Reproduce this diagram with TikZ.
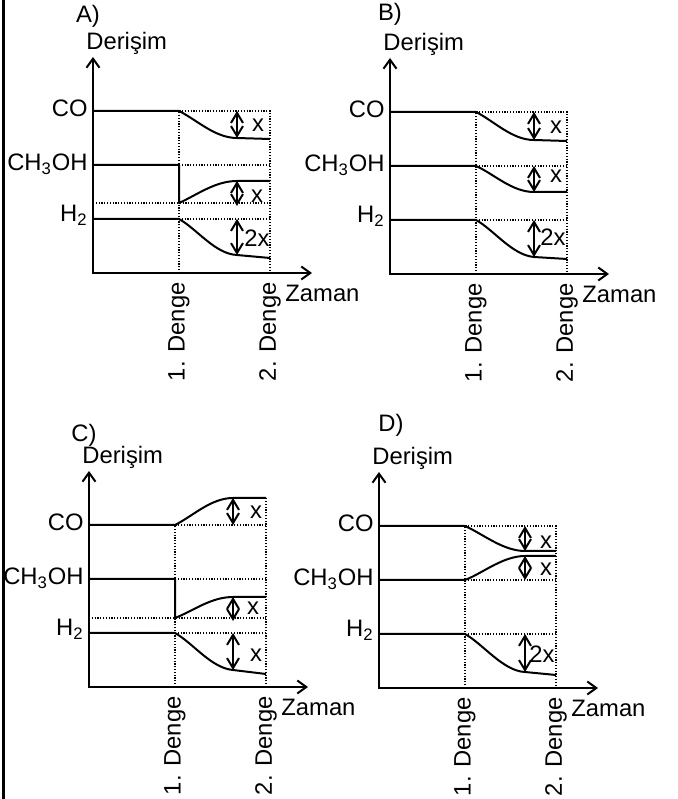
\documentclass[tikz,border=0pt]{standalone}
\usepackage{fontspec}
\setmainfont{Liberation Sans}
\usetikzlibrary{arrows.meta}

\tikzset{
  every node/.style={font=\fontsize{11.9}{13}\selectfont, inner sep=0pt},
  axes/.style={line width=1pt, {Straight Barb[length=4.5pt,width=6.5pt]}-{Straight Barb[length=4.5pt,width=6.5pt]}},
  level/.style={line width=1pt, line join=round},
  guide/.style={line width=0.6pt, dash pattern=on 0.6pt off 0.8pt},
  gap/.style={line width=1pt, {Straight Barb[length=5pt,width=6pt]}-{Straight Barb[length=5pt,width=6pt]}},
  tag/.style={anchor=base east},
  denge/.style={rotate=90, anchor=east},
}

% axes, labels and species names of one chart
\newcommand{\chartframe}[3]{%
  \coordinate (#1-o) at (0,0);
  \coordinate (#1-y) at (0,216);
  \coordinate (#1-x) at (219,0);
  \draw[axes] (#1-y) -- (#1-o) -- (#1-x);
  \node (#1-lt) at #3 {#2)};
  \node[anchor=west] (#1-yl) at (-7,230) {Derişim};
  \node[anchor=west] (#1-xl) at (192,-20) {Zaman};
  \node[denge] (#1-d1) at (86,-9) {1. Denge};
  \node[denge] (#1-d2) at (177,-9) {2. Denge};
  \node[tag] (#1-co) at (-5,156) {CO};
  \node[tag] (#1-me) at (-5,102) {CH\textsubscript{3}OH};
  \node[tag] (#1-h) at (-5,51) {H\textsubscript{2}};
}

\begin{document}
\begin{tikzpicture}[x=0.5pt,y=0.5pt]
  \useasboundingbox (0,0) rectangle (678,799);
  \draw[line width=1.5pt] (3,0) -- (3,799);

  % A)
  \begin{scope}[shift={(93,526)}]
    \draw[guide] (86,0) -- (86,162) -- (177,162) -- (177,0);
    \draw[guide] (86,108) -- (177,108);
    \draw[guide] (0,70) -- (177,70);
    \draw[guide] (86,54) -- (177,54);
    \chartframe{A}{A}{(-5,257)}
    \draw[level] (0,162) -- (86,162) .. controls (104,153) and (122,135) .. (144,135) -- (177,134);
    \draw[level] (0,108) -- (86,108) -- (86,70) .. controls (104,78) and (122,92) .. (144,92) -- (177,92);
    \draw[level] (0,54) -- (86,54) .. controls (104,44) and (122,19) .. (144,18) -- (177,15);
    \draw[gap] (144,162) -- (144,135);
    \draw[gap] (144,92) -- (144,67);
    \draw[gap] (144,54) -- (144,18);
    \node (A-g1) at (165,148) {x};
    \node (A-g2) at (164,77) {x};
    \node (A-g3) at (164,35) {2x};
  \end{scope}

  % B)
  \begin{scope}[shift={(390,525)}]
    \draw[guide] (86,0) -- (86,162) -- (177,162) -- (177,0);
    \draw[guide] (86,108) -- (177,108);
    \draw[guide] (86,54) -- (177,54);
    \chartframe{B}{B}{(0,260)}
    \draw[level] (0,162) -- (86,162) .. controls (104,153) and (122,134) .. (144,134) -- (177,133);
    \draw[level] (0,108) -- (86,108) .. controls (104,100) and (122,82) .. (144,82) -- (177,82);
    \draw[level] (0,54) -- (86,54) .. controls (104,44) and (122,19) .. (144,17) -- (177,15);
    \draw[gap] (144,162) -- (144,134);
    \draw[gap] (144,108) -- (144,82);
    \draw[gap] (144,54) -- (144,17);
    \node (B-g1) at (166,147) {x};
    \node (B-g2) at (166,98) {x};
    \node (B-g3) at (163,37) {2x};
  \end{scope}

  % C)
  \begin{scope}[shift={(89,112)}]
    \draw[guide] (86,0) -- (86,162) -- (177,162);
    \draw[guide] (177,0) -- (177,189);
    \draw[guide] (86,108) -- (177,108);
    \draw[guide] (0,69) -- (177,69);
    \draw[guide] (86,54) -- (177,54);
    \chartframe{C}{C}{(-5,252)}
    \draw[level] (0,162) -- (86,162) .. controls (104,171) and (122,189) .. (144,189) -- (177,189);
    \draw[level] (0,108) -- (86,108) -- (86,69) .. controls (104,76) and (122,90) .. (144,90) -- (177,90);
    \draw[level] (0,54) -- (86,54) .. controls (104,44) and (122,19) .. (144,17) -- (177,13);
    \draw[gap] (144,189) -- (144,162);
    \draw[gap] (144,90) -- (144,66);
    \draw[gap] (144,54) -- (144,17);
    \node (C-g1) at (167,175) {x};
    \node (C-g2) at (164,79) {x};
    \node (C-g3) at (167,32) {x};
  \end{scope}

  % D)
  \begin{scope}[shift={(379,111)}]
    \draw[guide] (86,0) -- (86,162) -- (177,162) -- (177,0);
    \draw[guide] (86,108) -- (177,108);
    \draw[guide] (86,54) -- (177,54);
    \chartframe{D}{D}{(12,263)}
    \draw[level] (0,162) -- (86,162) .. controls (104,154) and (124,137) .. (146,137) -- (177,137);
    \draw[level] (0,108) -- (86,108) .. controls (104,115) and (124,132) .. (146,132) -- (177,132);
    \draw[level] (0,54) -- (86,54) .. controls (104,44) and (124,17) .. (146,16) -- (177,13);
    \draw[gap] (146,162) -- (146,137);
    \draw[gap] (146,132) -- (146,108);
    \draw[gap] (146,54) -- (146,16);
    \node (D-g1) at (167,146) {x};
    \node (D-g2) at (167,119) {x};
    \node (D-g3) at (163,34) {2x};
  \end{scope}
\end{tikzpicture}
\end{document}
